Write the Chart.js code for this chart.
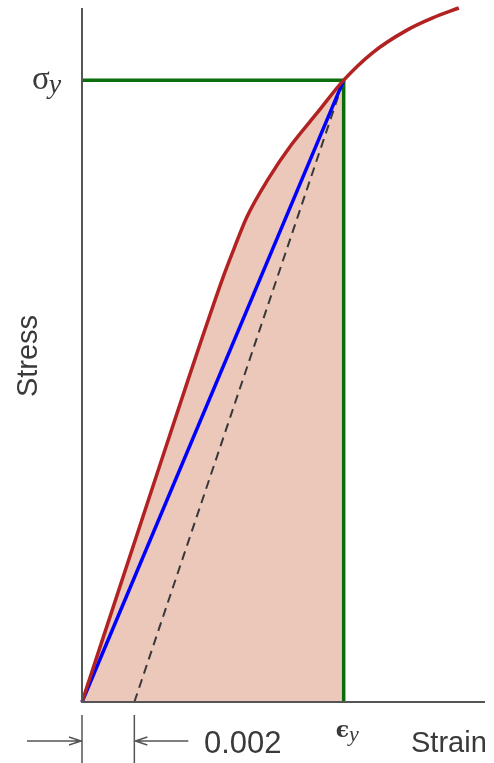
<!DOCTYPE html>
<html>
<head>
<meta charset="utf-8">
<script src="https://cdn.jsdelivr.net/npm/chart.js@4/dist/chart.umd.min.js"></script>
<style>
  html, body { margin: 0; padding: 0; background: #fff; }
  canvas { display: block; }
</style>
</head>
<body>
<canvas id="chart" width="494" height="763"></canvas>
<script>
// Stress-strain curve (strain, stress in MPa)
const strain = [0, 0.0025, 0.0041, 0.0054, 0.0058, 0.0063, 0.0071, 0.0080, 0.0090, 0.0100, 0.0111, 0.0124, 0.0134, 0.0144];
const stress = [0, 80, 131, 171, 182, 195, 210, 224, 237, 250, 261, 270, 275, 279];

// Yield point and 0.2% offset
const yieldStrain = 0.010;
const yieldStress = 250;
const offsetStrain = 0.002;

// Text drawn on the figure
const axisTitles = { y: 'Stress', x: 'Strain' };
const offsetLabel = '0.002';
const yieldStressLabel = ['σ', 'y'];
const yieldStrainLabel = ['ϵ', 'y'];

const curve = strain.map((s, i) => ({ x: s, y: stress[i] }));
const curveToYield = curve.filter(p => p.x <= yieldStrain);

const TEXT = '#3a3a3a';
const AXIS = '#555555';

const annotate = {
  id: 'annotate',
  afterDatasetsDraw(chart) {
    const { ctx, scales: { x, y } } = chart;
    const x0 = x.getPixelForValue(0);
    const y0 = y.getPixelForValue(0);
    const xOff = x.getPixelForValue(offsetStrain);
    const xEnd = x.right;
    const yTop = y.top;

    ctx.save();
    // axis lines
    ctx.strokeStyle = AXIS;
    ctx.lineWidth = 2;
    ctx.beginPath();
    ctx.moveTo(x0, yTop);
    ctx.lineTo(x0, y0);
    ctx.lineTo(xEnd, y0);
    ctx.stroke();

    // offset dimension marks
    ctx.lineWidth = 1.5;
    ctx.beginPath();
    ctx.moveTo(x0, y0 + 13); ctx.lineTo(x0, chart.height);
    ctx.moveTo(xOff, y0 + 13); ctx.lineTo(xOff, chart.height);
    const ay = y0 + 39;
    ctx.moveTo(27, ay); ctx.lineTo(x0 - 1, ay);
    ctx.moveTo(x0 - 13, ay - 4); ctx.lineTo(x0 - 1, ay); ctx.lineTo(x0 - 13, ay + 4);
    ctx.moveTo(xOff + 1, ay); ctx.lineTo(xOff + 54, ay);
    ctx.moveTo(xOff + 13, ay - 4); ctx.lineTo(xOff + 1, ay); ctx.lineTo(xOff + 13, ay + 4);
    ctx.stroke();

    ctx.fillStyle = TEXT;
    ctx.textBaseline = 'alphabetic';

    // offset value
    ctx.font = '31px "Liberation Sans", Arial, sans-serif';
    ctx.textAlign = 'left';
    ctx.fillText(offsetLabel, 204, 753);

    // strain axis title
    ctx.font = '29px "Liberation Sans", Arial, sans-serif';
    ctx.fillText(axisTitles.x, 411, 752);

    // stress axis title
    ctx.save();
    ctx.translate(37, 356);
    ctx.rotate(-Math.PI / 2);
    ctx.textAlign = 'center';
    ctx.fillText(axisTitles.y, 0, 0);
    ctx.restore();

    // yield stress label
    const ys = y.getPixelForValue(yieldStress);
    ctx.textAlign = 'left';
    ctx.font = '33px "Liberation Serif", "DejaVu Serif", serif';
    ctx.fillText(yieldStressLabel[0], 32, ys + 9);
    const sw = ctx.measureText(yieldStressLabel[0]).width;
    ctx.font = 'italic 28px "Liberation Serif", "DejaVu Serif", serif';
    ctx.fillText(yieldStressLabel[1], 32 + sw - 1, ys + 13);

    // yield strain label
    const xs = x.getPixelForValue(yieldStrain);
    ctx.font = 'bold 22px "DejaVu Serif", "Liberation Serif", serif';
    ctx.fillText(yieldStrainLabel[0], xs - 8, 737);
    const ew = ctx.measureText(yieldStrainLabel[0]).width;
    ctx.font = 'italic 22px "Liberation Serif", "DejaVu Serif", serif';
    ctx.fillText(yieldStrainLabel[1], xs - 8 + ew, 741);

    ctx.restore();
  }
};

new Chart(document.getElementById('chart'), {
  type: 'scatter',
  data: {
    datasets: [
      {
        // yield lines
        data: [{ x: 0, y: yieldStress }, { x: yieldStrain, y: yieldStress }, { x: yieldStrain, y: 0 }],
        showLine: true, borderColor: '#0a6e0a', borderWidth: 3.5, pointRadius: 0, order: 3
      },
      {
        // shaded area under curve up to yield
        data: curveToYield,
        showLine: true, fill: 'origin', backgroundColor: 'rgb(235,200,186)',
        borderWidth: 0, borderColor: 'rgba(0,0,0,0)', pointRadius: 0,
        cubicInterpolationMode: 'monotone', order: 5
      },
      {
        // 0.2% offset line
        data: [{ x: offsetStrain, y: 0 }, { x: yieldStrain, y: yieldStress }],
        showLine: true, borderColor: '#383838', borderWidth: 2, borderDash: [9, 6],
        pointRadius: 0, order: 4
      },
      {
        // secant line
        data: [{ x: 0, y: 0 }, { x: yieldStrain, y: yieldStress }],
        showLine: true, borderColor: '#0000ff', borderWidth: 3.5, pointRadius: 0, order: 2
      },
      {
        // stress-strain curve
        data: curve,
        showLine: true, borderColor: '#b22222', borderWidth: 3.5, pointRadius: 0,
        cubicInterpolationMode: 'monotone', order: 1
      }
    ]
  },
  options: {
    responsive: false,
    animation: false,
    clip: false,
    layout: { padding: { left: 82, right: 9, top: 8, bottom: 61 } },
    scales: {
      x: { type: 'linear', display: false, min: 0, max: 0.0154 },
      y: { type: 'linear', display: false, min: 0, max: 279 }
    },
    plugins: { legend: { display: false }, tooltip: { enabled: false } }
  },
  plugins: [annotate]
});
</script>
</body>
</html>
